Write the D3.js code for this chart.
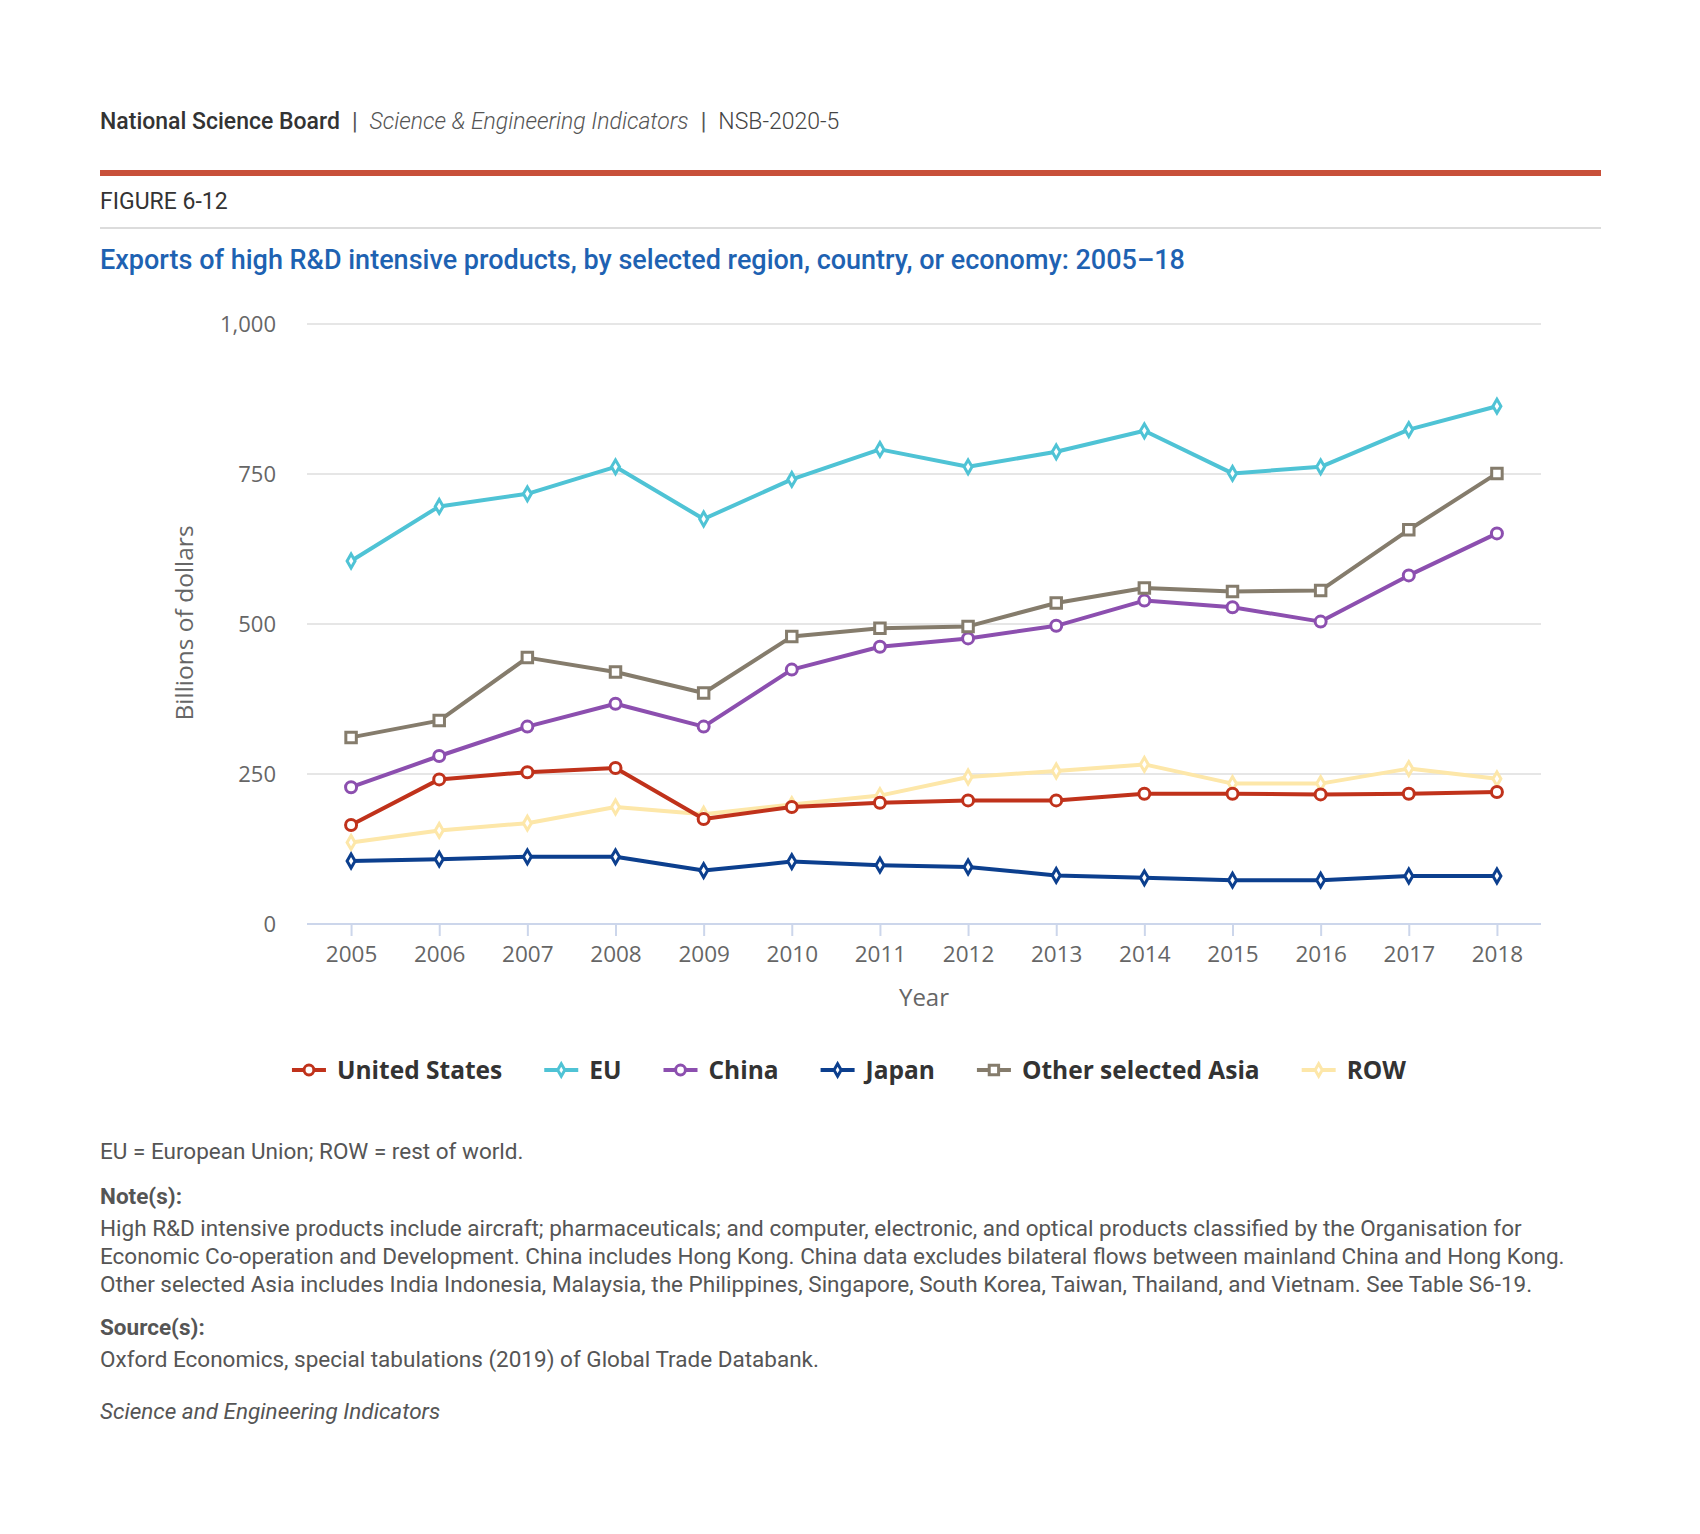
<!DOCTYPE html>
<html>
<head>
<meta charset="utf-8">
<script src="https://cdn.jsdelivr.net/npm/d3@7"></script>
<style>
  body { margin: 0; background: #fff; }
</style>
</head>
<body>
<svg id="chart" width="1700" height="1534" font-family="Roboto, sans-serif"></svg>
<script>
const years = [2005, 2006, 2007, 2008, 2009, 2010, 2011, 2012, 2013, 2014, 2015, 2016, 2017, 2018];
const yTicks = [0, 250, 500, 750, 1000];

// billions of dollars
const unitedStates = [165, 241, 253, 260, 175, 195, 202, 206, 206, 217, 217, 216, 217, 220];
const eu = [605, 696, 717, 762, 675, 741, 791, 762, 787, 822, 751, 762, 824, 863];
const china = [228, 280, 329, 367, 329, 424, 462, 476, 497, 539, 528, 504, 581, 651];
const japan = [105, 108, 112, 112, 89, 104, 98, 95, 81, 77, 73, 73, 80, 80];
const otherAsia = [311, 339, 444, 420, 385, 479, 493, 496, 535, 560, 554, 556, 657, 751];
const restOfWorld = [136, 156, 168, 195, 183, 199, 214, 245, 255, 266, 234, 234, 259, 242];

const seriesNames = ['United States', 'EU', 'China', 'Japan', 'Other selected Asia', 'ROW'];
const seriesValues = [unitedStates, eu, china, japan, otherAsia, restOfWorld];
const seriesColors = ['#c0321b', '#4fc3d5', '#8c4faf', '#0c3f8e', '#857c6c', '#fde7a9'];
const seriesSymbols = [d3.symbolCircle, d3.symbolDiamond, d3.symbolCircle, d3.symbolDiamond, d3.symbolSquare, d3.symbolDiamond];
const symbolSizes = [95, 55, 95, 55, 110, 55];

const svg = d3.select('#chart');
svg.append('rect').attr('width', 1700).attr('height', 1534).attr('fill', '#fff');

// header
const header = svg.append('text').attr('x', 100).attr('y', 129).attr('font-size', 23).attr('fill', '#333');
header.append('tspan').attr('font-weight', 500).text('National Science Board');
header.append('tspan').attr('dx', 12).attr('fill', '#555').text('|');
header.append('tspan').attr('dx', 12).attr('font-style', 'italic').attr('font-weight', 300).attr('fill', '#555').text('Science & Engineering Indicators');
header.append('tspan').attr('dx', 12).attr('fill', '#555').text('|');
header.append('tspan').attr('dx', 12).attr('font-weight', 300).attr('fill', '#444').text('NSB-2020-5');

svg.append('rect').attr('x', 100).attr('y', 170).attr('width', 1501).attr('height', 6).attr('fill', '#c8503a');
svg.append('text').attr('x', 100).attr('y', 209).attr('font-size', 23).attr('fill', '#333').text('FIGURE 6-12');
svg.append('rect').attr('x', 100).attr('y', 227).attr('width', 1501).attr('height', 2).attr('fill', '#dcdcdc');
svg.append('text').attr('x', 100).attr('y', 269).attr('font-size', 27).attr('font-weight', 500).attr('fill', '#1e62b2')
  .text('Exports of high R&D intensive products, by selected region, country, or economy: 2005\u201318');

// plot
const x = d3.scalePoint().domain(years).range([307, 1541]).padding(0.5);
const y = d3.scaleLinear().domain([0, 1000]).range([924, 324]);

const grid = svg.append('g');
grid.selectAll('line').data(yTicks.filter(d => d > 0)).join('line')
  .attr('x1', 307).attr('x2', 1541)
  .attr('y1', d => y(d)).attr('y2', d => y(d))
  .attr('stroke', '#e6e6e6').attr('stroke-width', 2);

const yAxis = svg.append('g').attr('transform', 'translate(276,0)')
  .call(d3.axisLeft(y).tickValues(yTicks).tickSize(0).tickPadding(0).tickFormat(d3.format(',')));
yAxis.select('.domain').remove();
yAxis.selectAll('text').attr('font-family', 'Open Sans').attr('font-size', 22).attr('fill', '#666');

const xAxis = svg.append('g').attr('transform', 'translate(0,924)')
  .call(d3.axisBottom(x).tickSize(12).tickPadding(10).tickSizeOuter(0));
xAxis.select('.domain').attr('d', 'M307,0H1541').attr('stroke', '#ccd6eb').attr('stroke-width', 2);
xAxis.selectAll('.tick line').attr('stroke', '#ccd6eb').attr('stroke-width', 2);
xAxis.selectAll('text').attr('font-family', 'Open Sans').attr('font-size', 22.5).attr('fill', '#666');

svg.append('text').attr('x', 924).attr('y', 1006).attr('text-anchor', 'middle')
  .attr('font-family', 'Open Sans').attr('font-size', 24).attr('fill', '#666').text('Year');
svg.append('text').attr('transform', 'translate(193,623) rotate(-90)').attr('text-anchor', 'middle')
  .attr('font-family', 'Open Sans').attr('font-size', 24.5).attr('fill', '#666').text('Billions of dollars');

// lines and markers
const line = d3.line().x((d, i) => x(years[i])).y(d => y(d));
const drawOrder = [5, 3, 0, 2, 4, 1];
drawOrder.forEach(k => {
  const g = svg.append('g');
  g.append('path').datum(seriesValues[k]).attr('d', line)
    .attr('fill', 'none').attr('stroke', seriesColors[k]).attr('stroke-width', 4).attr('stroke-linejoin', 'round');
  g.selectAll('path.pt').data(seriesValues[k]).join('path').attr('class', 'pt')
    .attr('transform', (d, i) => `translate(${x(years[i])},${y(d)})`)
    .attr('d', d3.symbol().type(seriesSymbols[k]).size(symbolSizes[k]))
    .attr('fill', '#fff').attr('stroke', seriesColors[k]).attr('stroke-width', 3);
});

// legend
const legend = svg.append('g');
let lx = 0;
seriesNames.forEach((name, k) => {
  const it = legend.append('g').attr('transform', `translate(${lx},0)`);
  it.append('line').attr('x1', 0).attr('x2', 34).attr('stroke', seriesColors[k]).attr('stroke-width', 4);
  it.append('path').attr('transform', 'translate(17,0)')
    .attr('d', d3.symbol().type(seriesSymbols[k]).size(symbolSizes[k] * 0.8))
    .attr('fill', '#fff').attr('stroke', seriesColors[k]).attr('stroke-width', 3);
  const t = it.append('text').attr('x', 45).attr('y', 8.5).attr('font-family', 'Open Sans')
    .attr('font-weight', 700).attr('font-size', 24.5).attr('fill', '#333').text(name);
  lx += 45 + t.node().getComputedTextLength() + 42;
});
const legendWidth = lx - 42;
legend.attr('transform', `translate(${849 - legendWidth / 2},1070)`);

// notes
const notes = [
  { y: 1159, text: 'EU = European Union; ROW = rest of world.' },
  { y: 1204, text: 'Note(s):', bold: true },
  { y: 1236, text: 'High R&D intensive products include aircraft; pharmaceuticals; and computer, electronic, and optical products classified by the Organisation for' },
  { y: 1264, text: 'Economic Co-operation and Development. China includes Hong Kong. China data excludes bilateral flows between mainland China and Hong Kong.' },
  { y: 1292, text: 'Other selected Asia includes India Indonesia, Malaysia, the Philippines, Singapore, South Korea, Taiwan, Thailand, and Vietnam. See Table S6-19.' },
  { y: 1335, text: 'Source(s):', bold: true },
  { y: 1367, text: 'Oxford Economics, special tabulations (2019) of Global Trade Databank.' },
  { y: 1419, text: 'Science and Engineering Indicators', italic: true }
];
svg.append('g').selectAll('text').data(notes).join('text')
  .attr('x', 100).attr('y', d => d.y).attr('font-size', 22.5).attr('fill', '#555')
  .attr('font-weight', d => d.bold ? 700 : 400)
  .attr('font-style', d => d.italic ? 'italic' : 'normal')
  .text(d => d.text);
</script>
</body>
</html>
